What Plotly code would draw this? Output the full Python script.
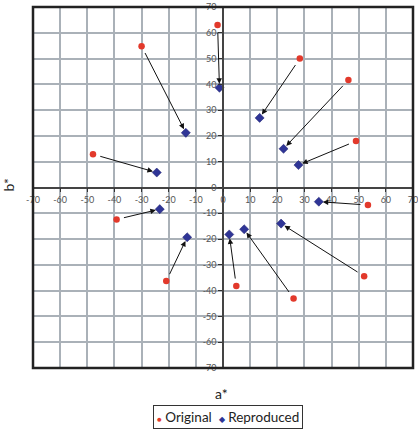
import plotly.graph_objects as go

# Original colour coordinates (a*, b*)
orig_a = [-2, 28.3, 46.2, 49, 53.4, 52, 26, 4.9, -20.9, -39.2, -47.9, -30]
orig_b = [63, 50, 41.7, 18, -6.8, -34.4, -43, -38.2, -36.3, -12.4, 12.9, 54.8]
# Reproduced colour coordinates (a*, b*)
rep_a = [-1.3, 13.5, 22.3, 27.8, 35.3, 21.4, 7.8, 2.3, -13.2, -23.3, -24.4, -13.7]
rep_b = [38.7, 27, 15, 8.7, -5.5, -14, -16.2, -18.2, -19.3, -8.4, 5.8, 21.2]

tick_vals = list(range(-70, 71, 10))
tick_text = [str(v) for v in tick_vals]
series_names = ["Original", "Reproduced"]
series_colors = ["#e2392b", "#2f3596"]

FONT = "Lato, 'Open Sans', sans-serif"

fig = go.Figure()
fig.add_trace(go.Scatter(
    x=orig_a, y=orig_b, mode="markers", name=series_names[0], showlegend=False,
    marker=dict(symbol="circle", size=6.5, color=series_colors[0]),
))
fig.add_trace(go.Scatter(
    x=rep_a, y=rep_b, mode="markers", name=series_names[1], showlegend=False,
    marker=dict(symbol="diamond", size=7, color=series_colors[1],
                line=dict(color="#1c1f6e", width=0.5)),
))

annotations = []
for xa, ya, xr, yr in zip(orig_a, orig_b, rep_a, rep_b):
    annotations.append(dict(
        x=xr, y=yr, ax=xa, ay=ya, xref="x", yref="y", axref="x", ayref="y",
        text="", showarrow=True, arrowhead=2, arrowsize=1.1, arrowwidth=1,
        arrowcolor="#111", standoff=4, startstandoff=6,
    ))

annotations.append(dict(text="a*", x=0.497, y=-0.07, xref="paper", yref="paper",
                        showarrow=False, font=dict(size=14, color="#222", family=FONT),
                        xanchor="center", yanchor="middle"))
annotations.append(dict(text="b*", x=-0.062, y=0.507, xref="paper", yref="paper",
                        showarrow=False, textangle=-90,
                        font=dict(size=14, color="#222", family=FONT),
                        xanchor="center", yanchor="middle"))

legend_text = (
    f"<span style='color:{series_colors[0]};font-size:8px'>●</span> {series_names[0]}&nbsp;&nbsp;"
    f"<span style='color:{series_colors[1]};font-size:8px'>◆</span> {series_names[1]}"
)
annotations.append(dict(text=legend_text, x=0.513, y=-0.136, xref="paper", yref="paper",
                        showarrow=False, font=dict(size=13.5, color="#222", family=FONT),
                        xanchor="center", yanchor="middle",
                        bordercolor="#333", borderwidth=1, borderpad=3, bgcolor="white"))

axis_common = dict(
    range=[-70, 70], tickmode="array", tickvals=tick_vals, ticktext=tick_text,
    showgrid=True, gridcolor="#aab1b8", gridwidth=1.5,
    zeroline=False, showline=True, linecolor="#444", linewidth=1.5,
    ticks="outside", ticklen=4, tickcolor="#333", tickwidth=1,
    tickfont=dict(size=9, color="#555", family=FONT),
    anchor="free", position=0.5, fixedrange=True, automargin=False,
    ticklabeloverflow="allow",
)

fig.update_layout(
    width=418, height=430,
    margin=dict(l=33, r=5, t=7, b=62, autoexpand=False),
    paper_bgcolor="white", plot_bgcolor="white",
    xaxis=dict(axis_common),
    yaxis=dict(axis_common),
    showlegend=False,
    annotations=annotations,
    shapes=[
        dict(type="rect", xref="paper", yref="paper", x0=0, y0=0, x1=1, y1=1,
             line=dict(color="#222", width=2.5)),
    ],
)

fig.write_html("out.html", post_script="document.body.style.margin='0';",
               config={"displayModeBar": False})
